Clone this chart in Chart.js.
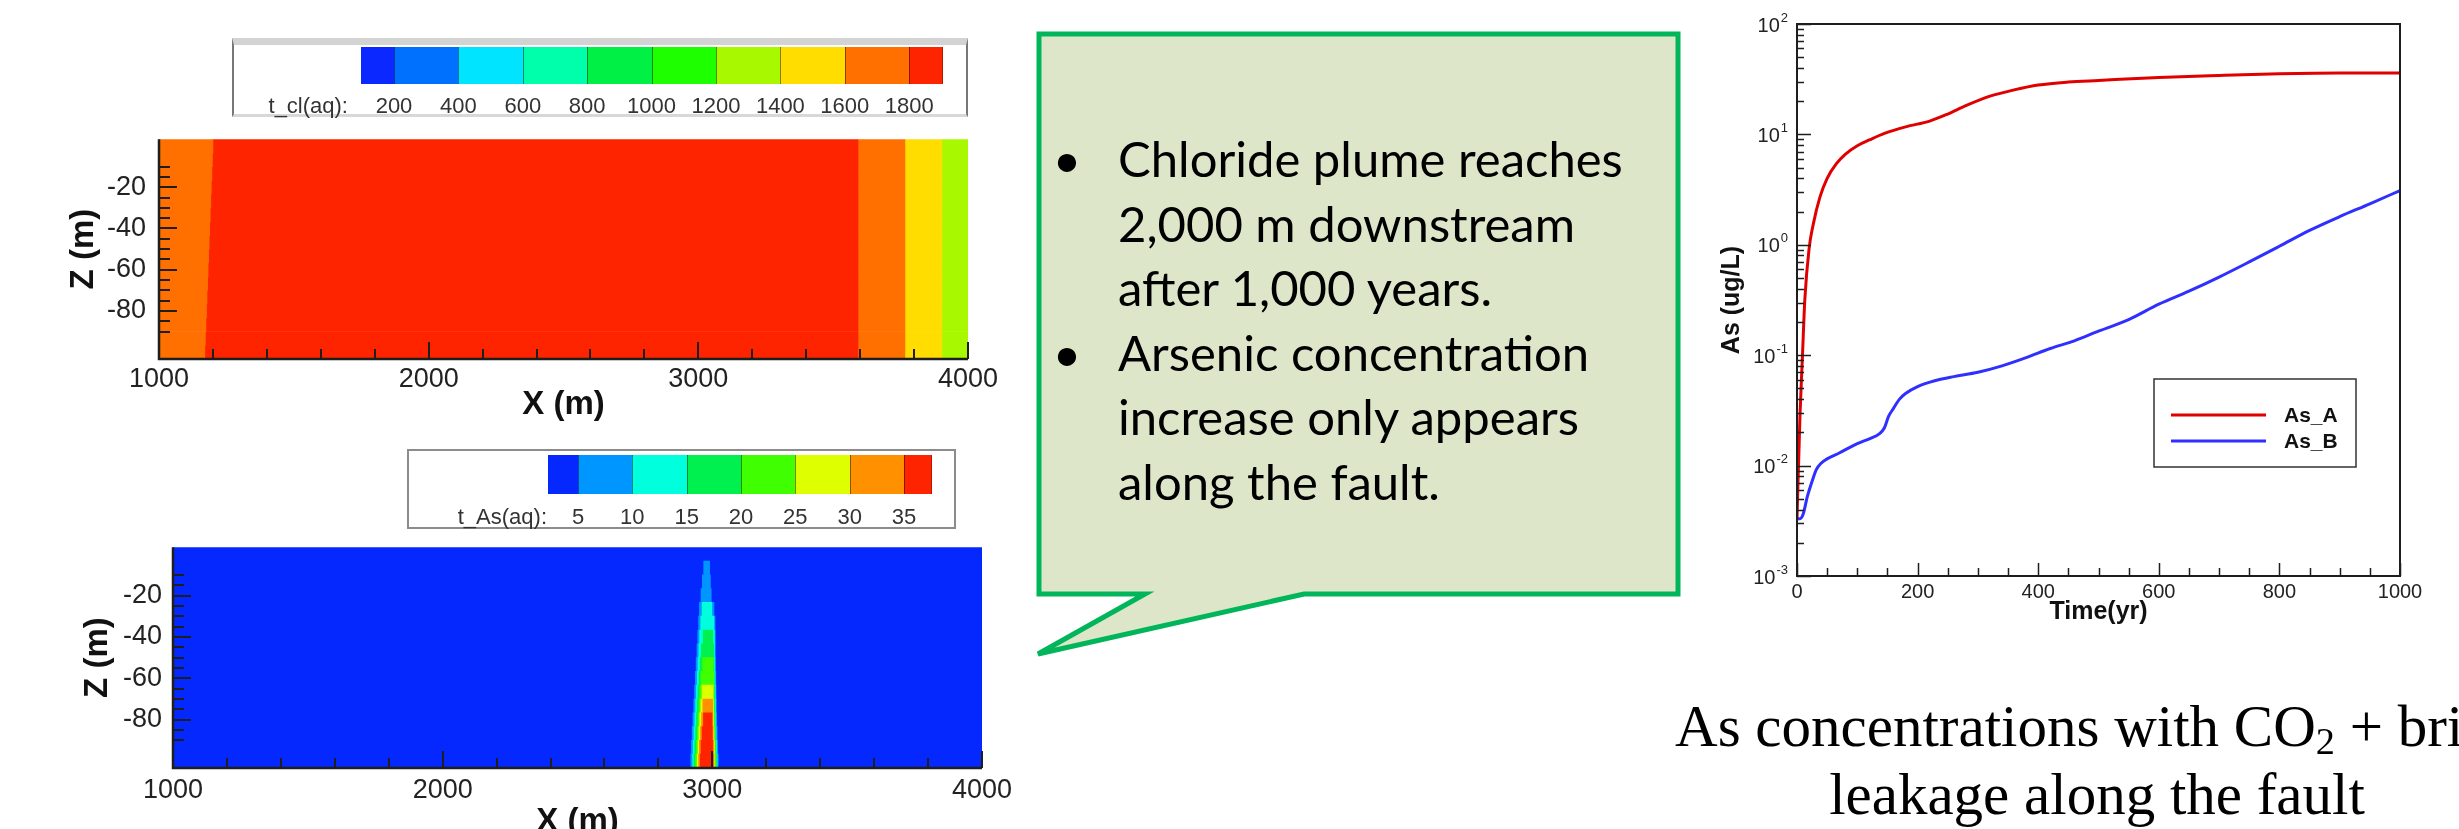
<!DOCTYPE html>
<html>
<head>
<meta charset="utf-8">
<script src="https://cdn.jsdelivr.net/npm/chart.js@4.4.1/dist/chart.umd.min.js"></script>
<style>
html,body{margin:0;padding:0;background:#fff;overflow:hidden;}
body{width:2459px;height:829px;position:relative;font-family:"Liberation Sans",Arial,sans-serif;}
canvas{position:absolute;display:block;}
.legbox{position:absolute;box-sizing:border-box;background:#fff;}
.cell{position:absolute;box-sizing:border-box;border-left:1px solid rgba(0,0,0,0.45);}
.lab{position:absolute;transform:translate(-50%,-50%);font-size:22px;color:#333;white-space:nowrap;}
.ltitle{position:absolute;transform:translate(-100%,-50%);font-size:22px;color:#333;white-space:nowrap;}
#callout{position:absolute;left:0;top:0;}
#bullets{position:absolute;left:1118px;top:126px;font-family:Lato,"Open Sans",sans-serif;font-size:49px;line-height:64.5px;color:#000;white-space:nowrap;}
#bullets .line{position:relative;height:64.5px;}
#bullets .b{position:absolute;left:-51px;transform:translateX(-50%);}
#caption{position:absolute;left:1497px;width:1200px;top:692px;text-align:center;font-family:"Liberation Serif","Times New Roman",serif;font-size:59px;line-height:68px;color:#000;white-space:nowrap;}
#caption sub{font-size:0.65em;line-height:0;vertical-align:-0.22em;}
</style>
</head>
<body>
<canvas id="clChart" width="1020" height="320" style="left:0;top:110px;width:1020px;height:320px"></canvas>
<canvas id="asMapChart" width="1040" height="340" style="left:0;top:520px;width:1040px;height:340px"></canvas>
<canvas id="asChart" width="759" height="650" style="left:1700px;top:0;width:759px;height:650px"></canvas>
<div id="clLegend" class="legbox"></div>
<div id="asLegend" class="legbox"></div>
<svg id="callout" width="2459" height="829">
  <polygon points="1039,34 1678,34 1678,594 1304,594 1038,654 1145,594 1039,594" fill="#dee6c9" stroke="#00b55a" stroke-width="5" stroke-linejoin="miter"/>
</svg>
<div id="bullets">
  <div class="line"><span class="b">•</span>Chloride plume reaches</div>
  <div class="line">2,000 m downstream</div>
  <div class="line">after 1,000 years.</div>
  <div class="line"><span class="b">•</span>Arsenic concentration</div>
  <div class="line">increase only appears</div>
  <div class="line">along the fault.</div>
</div>
<div id="caption">As concentrations with CO<sub>2</sub> + brine<br>leakage along the fault</div>

<script>
// ---------------- DATA ----------------
// Contour maps (X in m, Z rows of 5 m from -10 (top) to -90 (bottom))
const mapXTicks = [1000, 2000, 3000, 4000];
const depthTicks = [-80, -60, -40, -20];
const depthRows = ['-12.5','-17.5','-22.5','-27.5','-32.5','-37.5','-42.5','-47.5',
                   '-52.5','-57.5','-62.5','-67.5','-72.5','-77.5','-82.5','-87.5'];

// t_cl(aq) map: left boundary of the red plume per row, and fixed front boundaries
const clPlumeLeft = [1200,1198,1196,1194,1192,1190,1188,1186,1184,1182,1180,1178,1176,1174,1172,1170];
const clFrontEdges = [3592, 3766, 3903];
const clLegendLabels = ['200','400','600','800','1000','1200','1400','1600','1800'];
const clLegendColors = ['#0a28ff','#0070ff','#00e4ff','#00ffaa','#00f046','#1eff00','#a8f800','#ffdd00','#ff7000','#ff2400'];

// t_As(aq) map: background level + plume extents per row [xLeft, xRight]
const asLegendLabels = ['5','10','15','20','25','30','35'];
const asLegendColors = ['#0528ff','#0096ff','#00ffdd','#00f050','#40ff00','#ddff00','#ff9000','#ff2400'];
const asPlume5to10  = [null,[2968,2990],[2963,2993],[2958,2996],[2952,3006],[2949,3010],[2946,3011],[2943,3011],[2940,3012],[2937,3013],[2934,3014],[2931,3015],[2928,3016],[2925,3018],[2922,3020],[2920,3022]];
const asPlume10to15 = [null,null,null,null,[2962,2998],[2957,3006],[2953,3008],[2950,3008],[2947,3009],[2944,3010],[2941,3011],[2938,3012],[2935,3013],[2932,3014],[2929,3016],[2927,3018]];
const asPlume15to20 = [null,null,null,null,null,null,[2966,3002],[2959,3005],[2955,3006],[2951,3007],[2947,3008],[2944,3009],[2941,3010],[2938,3011],[2935,3013],[2932,3015]];
const asPlume20to25 = [null,null,null,null,null,null,null,null,[2964,3003],[2958,3005],[2954,3006],[2950,3007],[2947,3008],[2944,3009],[2941,3011],[2938,3012]];
const asPlume25to30 = [null,null,null,null,null,null,null,null,null,null,[2962,3003],[2957,3004],[2953,3005],[2950,3006],[2947,3008],[2944,3009]];
const asPlume30to35 = [null,null,null,null,null,null,null,null,null,null,null,[2965,3001],[2960,3002],[2956,3003],[2952,3005],[2949,3006]];
const asPlumeOver35 = [null,null,null,null,null,null,null,null,null,null,null,null,[2967,2999],[2962,3000],[2958,3001],[2955,3003]];

// As concentration time series (ug/L)
const seriesNames = ['As_A', 'As_B'];
const seriesColors = ['#e00000', '#2f2fff'];
const timeA = [0,5,9,13,20,27,38,50,65,80,100,120,145,180,220,250,280,320,360,400,450,500,600,700,800,900,1000];
const asA   = [0.0033,0.029,0.097,0.32,0.92,1.54,2.7,4.0,5.4,6.6,7.9,8.9,10.2,11.7,13.2,15.3,18.2,22.2,25.3,28.0,29.8,30.8,32.8,34.2,35.4,36.0,36.0];
const timeB = [0,5,10,17,25,32,40,50,70,100,120,137,145,152,160,170,180,200,230,260,300,340,380,420,460,500,550,600,650,700,750,800,850,900,950,1000];
const asB   = [0.0033,0.0033,0.0036,0.0052,0.0072,0.0092,0.0105,0.0115,0.013,0.0158,0.0175,0.0195,0.022,0.028,0.033,0.040,0.045,0.052,0.059,0.064,0.070,0.080,0.095,0.115,0.135,0.165,0.21,0.29,0.38,0.51,0.70,0.97,1.35,1.80,2.35,3.1];
const timeTicks = [0, 200, 400, 600, 800, 1000];
const asDecadeExps = [-3, -2, -1, 0, 1, 2];

// ---------------- RENDER ----------------
const SANS = '"Liberation Sans", Arial, sans-serif';
const plainLabel = v => String(v);

const contourAxes = {
  id: 'contourAxes',
  afterDatasetsDraw(chart, args, o) {
    const {ctx, chartArea: a} = chart;
    const xs = chart.scales.x, ys = chart.scales.yDepth;
    ctx.save();
    ctx.strokeStyle = '#1e1e1e';
    ctx.lineWidth = 2;
    ctx.beginPath();
    for (let v = xs.min; v <= xs.max + 0.001; v += o.xMinor) {
      const p = Math.round(xs.getPixelForValue(v));
      const len = mapXTicks.includes(v) ? 17 : 10;
      ctx.moveTo(p, a.bottom); ctx.lineTo(p, a.bottom - len);
    }
    for (let v = ys.min; v <= ys.max + 0.001; v += o.yMinor) {
      const p = Math.round(ys.getPixelForValue(v));
      const len = depthTicks.includes(v) ? 18 : 11;
      ctx.moveTo(a.left, p); ctx.lineTo(a.left + len, p);
    }
    ctx.stroke();
    ctx.lineWidth = 2.5;
    ctx.beginPath();
    ctx.moveTo(a.left, a.top); ctx.lineTo(a.left, a.bottom); ctx.lineTo(a.right, a.bottom);
    ctx.stroke();
    ctx.restore();
  }
};

function contourChart(id, datasets, geom) {
  return new Chart(document.getElementById(id), {
    type: 'bar',
    data: { labels: depthRows, datasets },
    options: {
      indexAxis: 'y', responsive: false, animation: false, devicePixelRatio: 1,
      layout: { padding: { top: geom.top, right: geom.right, left: 0, bottom: 0 } },
      datasets: { bar: { barPercentage: 1, categoryPercentage: 1, grouped: false, borderWidth: 0, borderSkipped: false } },
      plugins: { legend: { display: false }, tooltip: { enabled: false }, contourAxes: { xMinor: 200, yMinor: 5 } },
      scales: {
        x: {
          type: 'linear', min: 1000, max: 4000,
          afterBuildTicks: s => { s.ticks = mapXTicks.map(v => ({ value: v })); },
          grid: { display: false, drawTicks: false }, border: { display: false },
          ticks: { font: { family: SANS, size: 27 }, color: '#222', padding: geom.xPad, maxRotation: 0, autoSkip: false, callback: plainLabel },
          title: { display: true, text: 'X (m)', color: '#111', font: { family: SANS, size: 33, weight: 'bold' }, padding: { top: 0, bottom: geom.xTitlePad } },
          afterFit: s => { s.height = geom.xH; }
        },
        y: { type: 'category', display: false, offset: true },
        yDepth: {
          axis: 'y', type: 'linear', position: 'left', min: -90, max: -10,
          afterBuildTicks: s => { s.ticks = depthTicks.map(v => ({ value: v })); },
          grid: { display: false, drawTicks: false }, border: { display: false },
          ticks: { font: { family: SANS, size: 27 }, color: '#222', padding: geom.yPad, callback: plainLabel },
          title: { display: true, text: 'Z (m)', color: '#111', font: { family: SANS, size: 33, weight: 'bold' }, padding: { top: geom.yTitlePad, bottom: 0 } },
          afterFit: s => { s.width = geom.yW; }
        }
      }
    },
    plugins: [contourAxes]
  });
}

// t_cl(aq) contour map
const clSets = [
  { data: depthRows.map((r, i) => [1000, clPlumeLeft[i]]), backgroundColor: clLegendColors[8] },
  { data: depthRows.map((r, i) => [clPlumeLeft[i], clFrontEdges[0]]), backgroundColor: clLegendColors[9] },
  { data: depthRows.map(() => [clFrontEdges[0], clFrontEdges[1]]), backgroundColor: clLegendColors[8] },
  { data: depthRows.map(() => [clFrontEdges[1], clFrontEdges[2]]), backgroundColor: clLegendColors[7] },
  { data: depthRows.map(() => [clFrontEdges[2], 4000]), backgroundColor: clLegendColors[6] }
];
contourChart('clChart', clSets, { top: 19, right: 52, xH: 71, yW: 159, xPad: 4, xTitlePad: 5, yPad: 13, yTitlePad: 64 });

// t_As(aq) contour map: background drawn first (highest order), higher levels on top
const asLevels = [asPlume5to10, asPlume10to15, asPlume15to20, asPlume20to25, asPlume25to30, asPlume30to35, asPlumeOver35];
const asSets = [{ data: depthRows.map(() => [1000, 4000]), backgroundColor: asLegendColors[0], order: 100 }]
  .concat(asLevels.map((lv, k) => ({ data: lv, backgroundColor: asLegendColors[k + 1], order: 50 - k })));
contourChart('asMapChart', asSets, { top: 19, right: 58, xH: 92, yW: 173, xPad: 6, xTitlePad: 18, yPad: 11, yTitlePad: 78 });

// colour-bar legends
function colorLegend(el, box, bar, colors, labels, title, boxStyle) {
  Object.assign(el.style, { left: box.left + 'px', top: box.top + 'px', width: box.width + 'px', height: box.height + 'px' }, boxStyle);
  const bl = el.clientLeft, bt = el.clientTop;
  let x = bar.left;
  const edges = [];
  colors.forEach((c, i) => {
    const w = i === 0 ? bar.firstW : (i === colors.length - 1 ? bar.lastW : bar.cellW);
    const d = document.createElement('div');
    d.className = 'cell';
    Object.assign(d.style, { left: (x - bl) + 'px', top: (bar.top - bt) + 'px', width: w + 'px', height: bar.height + 'px', background: c,
      borderRight: i === colors.length - 1 ? '1px solid rgba(0,0,0,0.3)' : 'none', borderLeft: i === 0 ? 'none' : '1px solid rgba(0,0,0,0.45)' });
    el.appendChild(d);
    x += w;
    if (i < colors.length - 1) edges.push(x);
  });
  labels.forEach((t, i) => {
    const s = document.createElement('div');
    s.className = 'lab'; s.textContent = t;
    s.style.left = (edges[i] - bl) + 'px'; s.style.top = (bar.labelY - bt) + 'px';
    el.appendChild(s);
  });
  const tt = document.createElement('div');
  tt.className = 'ltitle'; tt.textContent = title;
  tt.style.left = (bar.titleRight - bl) + 'px'; tt.style.top = (bar.labelY - bt) + 'px';
  el.appendChild(tt);
}
colorLegend(document.getElementById('clLegend'),
  { left: 232, top: 38, width: 736, height: 79 },
  { left: 129, top: 9, height: 37, firstW: 33, cellW: 64.4, lastW: 34, labelY: 68, titleRight: 116 },
  clLegendColors, clLegendLabels, 't_cl(aq):',
  { borderLeft: '2px solid #777', borderRight: '2px solid #777', borderTop: '7px solid #d3d3d3', borderBottom: '3px solid #d8d8d8' });
colorLegend(document.getElementById('asLegend'),
  { left: 407, top: 449, width: 549, height: 80 },
  { left: 141, top: 6, height: 39, firstW: 30, cellW: 54.33, lastW: 28, labelY: 68, titleRight: 140 },
  asLegendColors, asLegendLabels, 't_As(aq):',
  { border: '2px solid #8c8c8c' });

// As time-series chart
const asAxes = {
  id: 'asAxes',
  afterDraw(chart) {
    const {ctx, chartArea: a, scales: {x, y}} = chart;
    ctx.save();
    ctx.strokeStyle = '#1e1e1e';
    ctx.lineWidth = 1.5;
    ctx.beginPath();
    for (const e of asDecadeExps) {
      for (let m = 1; m <= 9; m++) {
        const v = m * Math.pow(10, e);
        if (v > y.max * 1.0001) break;
        const p = Math.round(y.getPixelForValue(v)) + 0.5;
        const len = m === 1 ? 14 : 7;
        ctx.moveTo(a.left, p); ctx.lineTo(a.left + len, p);
      }
    }
    for (let v = x.min; v <= x.max + 0.001; v += 50) {
      const p = Math.round(x.getPixelForValue(v)) + 0.5;
      const len = timeTicks.includes(v) ? 13 : 8;
      ctx.moveTo(p, a.bottom); ctx.lineTo(p, a.bottom - len);
    }
    ctx.stroke();
    ctx.lineWidth = 2;
    ctx.strokeRect(a.left, a.top, a.right - a.left, a.bottom - a.top);
    // decade labels 10^n
    ctx.fillStyle = '#222';
    ctx.textBaseline = 'middle';
    for (const e of asDecadeExps) {
      const p = y.getPixelForValue(Math.pow(10, e));
      const es = String(e);
      ctx.font = '13px ' + SANS;
      const ew = ctx.measureText(es).width;
      const xr = a.left - 9;
      ctx.textAlign = 'left';
      ctx.fillText(es, xr - ew, p - 6);
      ctx.font = '20px ' + SANS;
      ctx.textAlign = 'right';
      ctx.fillText('10', xr - ew - 1, p + 2);
    }
    // legend box
    const L = { left: 454, top: 379, width: 202, height: 88 };
    ctx.fillStyle = '#fff';
    ctx.fillRect(L.left, L.top, L.width, L.height);
    ctx.lineWidth = 1.5; ctx.strokeStyle = '#333';
    ctx.strokeRect(L.left, L.top, L.width, L.height);
    chart.data.datasets.forEach((ds, i) => {
      const yy = L.top + 36 + i * 26;
      ctx.strokeStyle = ds.borderColor; ctx.lineWidth = 3;
      ctx.beginPath(); ctx.moveTo(L.left + 17, yy); ctx.lineTo(L.left + 112, yy); ctx.stroke();
      ctx.fillStyle = '#111'; ctx.font = 'bold 21px ' + SANS; ctx.textAlign = 'left';
      ctx.fillText(ds.label, L.left + 130, yy + 1);
    });
    ctx.restore();
  }
};

new Chart(document.getElementById('asChart'), {
  type: 'line',
  data: {
    datasets: [
      { label: seriesNames[0], data: timeA.map((t, i) => ({ x: t, y: asA[i] })), borderColor: seriesColors[0], borderWidth: 3, pointRadius: 0, cubicInterpolationMode: 'monotone', fill: false },
      { label: seriesNames[1], data: timeB.map((t, i) => ({ x: t, y: asB[i] })), borderColor: seriesColors[1], borderWidth: 3, pointRadius: 0, cubicInterpolationMode: 'monotone', fill: false }
    ]
  },
  options: {
    responsive: false, animation: false, devicePixelRatio: 1,
    layout: { padding: { top: 24, right: 59, left: 0, bottom: 0 } },
    plugins: { legend: { display: false }, tooltip: { enabled: false } },
    scales: {
      x: {
        type: 'linear', min: 0, max: 1000,
        afterBuildTicks: s => { s.ticks = timeTicks.map(v => ({ value: v })); },
        grid: { display: false, drawTicks: false }, border: { display: false },
        ticks: { font: { family: SANS, size: 20 }, color: '#222', padding: 4, maxRotation: 0, autoSkip: false, callback: plainLabel },
        title: { display: true, text: 'Time(yr)', color: '#111', font: { family: SANS, size: 25, weight: 'bold' }, padding: { top: 0, bottom: 23 } },
        afterFit: s => { s.height = 74; }
      },
      y: {
        type: 'logarithmic', min: 0.001, max: 100,
        grid: { display: false, drawTicks: false }, border: { display: false },
        ticks: { display: false },
        title: { display: true, text: 'As (ug/L)', color: '#111', font: { family: SANS, size: 25, weight: 'bold' }, padding: { top: 17, bottom: 0 } },
        afterFit: s => { s.width = 97; }
      }
    }
  },
  plugins: [asAxes]
});
</script>
</body>
</html>
